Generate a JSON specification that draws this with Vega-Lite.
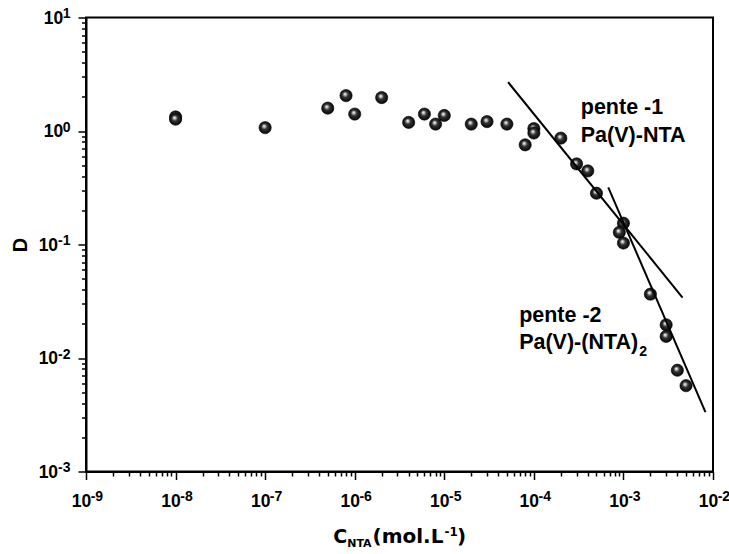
{
  "$schema": "https://vega.github.io/schema/vega-lite/v6.json",
  "autosize": {"type": "none"},
  "padding": {"left": 86, "top": 17.5, "right": 16, "bottom": 82.5},
  "width": 627,
  "height": 454,
  "background": "white",
  "config": {
    "view": {"stroke": "black", "strokeWidth": 2},
    "axis": {"grid": false, "labelColor": "black", "tickColor": "black", "domainColor": "black", "titleColor": "black", "labelFlush": false, "labelOverlap": false, "labelFont": "Liberation Sans", "labelFontWeight": "bold", "titleFontWeight": "bold", "tickWidth": 1.5, "domainWidth": 2}
  },
  "datasets": {
    "points": [
      {"c": 1e-8, "d": 1.33}, {"c": 1e-8, "d": 1.27}, {"c": 1e-7, "d": 1.07},
      {"c": 5e-7, "d": 1.59}, {"c": 8e-7, "d": 2.05}, {"c": 1e-6, "d": 1.41},
      {"c": 2e-6, "d": 1.97}, {"c": 4e-6, "d": 1.19}, {"c": 6e-6, "d": 1.41},
      {"c": 8e-6, "d": 1.15}, {"c": 1e-5, "d": 1.37}, {"c": 2e-5, "d": 1.15},
      {"c": 3e-5, "d": 1.21}, {"c": 5e-5, "d": 1.15}, {"c": 8e-5, "d": 0.755},
      {"c": 1e-4, "d": 1.05}, {"c": 1e-4, "d": 0.96}, {"c": 2e-4, "d": 0.865},
      {"c": 3e-4, "d": 0.513}, {"c": 4e-4, "d": 0.445}, {"c": 5e-4, "d": 0.283},
      {"c": 1e-3, "d": 0.154}, {"c": 9e-4, "d": 0.128}, {"c": 1e-3, "d": 0.103},
      {"c": 2e-3, "d": 0.0365}, {"c": 3e-3, "d": 0.0196}, {"c": 3e-3, "d": 0.0155},
      {"c": 4e-3, "d": 0.0078}, {"c": 5e-3, "d": 0.0057}
    ],
    "lines": [
      {"s": "a", "c": 5.16e-5, "d": 2.69}, {"s": "a", "c": 4.57e-3, "d": 0.0341},
      {"s": "b", "c": 6.77e-4, "d": 0.318}, {"s": "b", "c": 8.24e-3, "d": 0.00334}
    ],
    "labels": [
      {"c": 3.34e-4, "d": 1.40, "t": "pente -1"},
      {"c": 3.34e-4, "d": 0.794, "t": "Pa(V)-NTA"},
      {"c": 6.85e-5, "d": 0.0208, "t": "pente -2"},
      {"c": 6.85e-5, "d": 0.0119, "t": "Pa(V)-(NTA)"}
    ],
    "sub": [
      {"c": 1.5e-3, "d": 0.0104, "t": "2"}
    ]
  },
  "resolve": {"axis": {"x": "independent", "y": "independent"}},
  "layer": [
    {
      "data": {"name": "points"},
      "mark": {
        "type": "point", "shape": "circle", "filled": true, "size": 150, "opacity": 1,
        "fill": {"gradient": "radial", "x1": 0.4, "y1": 0.36, "r1": 0, "x2": 0.5, "y2": 0.5, "r2": 0.55,
          "stops": [{"offset": 0, "color": "#ffffff"}, {"offset": 0.16, "color": "#c8c8c8"}, {"offset": 0.42, "color": "#333333"}, {"offset": 1, "color": "#000000"}]},
        "stroke": "#000000", "strokeWidth": 0.6
      },
      "encoding": {
        "x": {"field": "c", "type": "quantitative",
          "scale": {"type": "log", "domain": [1e-9, 0.01], "nice": false},
          "axis": {"orient": "bottom", "values": [1e-9, 1e-8, 1e-7, 1e-6, 1e-5, 1e-4, 1e-3, 1e-2],
            "labelExpr": "'10'", "labelFont": "Liberation Sans", "labelFontWeight": "bold", "labelFontSize": 17.5,
            "labelAlign": "center", "labelBaseline": "alphabetic",
            "labelOffset": -5, "labelPadding": 26.5, "tickSize": 8,
            "title": "C", "titleX": 246.7, "titleY": 70.5, "titleAlign": "left", "titleBaseline": "alphabetic",
            "titleFont": "DejaVu Sans", "titleFontSize": 19}},
        "y": {"field": "d", "type": "quantitative",
          "scale": {"type": "log", "domain": [0.001, 10], "nice": false},
          "axis": {"orient": "left", "values": [0.001, 0.01, 0.1, 1, 10],
            "labelExpr": "'10'", "labelFont": "Liberation Sans", "labelFontWeight": "bold", "labelFontSize": 17.5,
            "labelAlign": "right", "labelBaseline": "middle", "labelOffset": 0.5,
            "labelPadding": {"condition": {"test": "datum.value >= 1", "value": 15.3}, "value": 20.4},
            "tickSize": 8,
            "title": "D", "titleX": -59.3, "titleY": 227, "titleAngle": -90, "titleAlign": "center",
            "titleBaseline": "alphabetic", "titleFont": "Liberation Sans", "titleFontSize": 20}}
      }
    },
    {
      "data": {"name": "lines"},
      "transform": [{"filter": "datum.s == 'a'"}],
      "mark": {"type": "line", "color": "black", "strokeWidth": 2},
      "encoding": {
        "x": {"field": "c", "type": "quantitative",
          "axis": {"orient": "bottom", "values": [1e-9, 1e-8, 1e-7, 1e-6, 1e-5, 1e-4, 1e-3, 1e-2],
            "labelExpr": "'' + round(log(datum.value) / LN10)", "labelFont": "Liberation Sans", "labelFontWeight": "bold",
            "labelFontSize": 14, "labelAlign": "left",
            "labelBaseline": "alphabetic", "labelOffset": 4.2, "labelPadding": 29.2,
            "ticks": false, "tickSize": 0, "domain": false,
            "title": "NTA", "titleX": 260.7, "titleY": 75, "titleAlign": "left", "titleBaseline": "alphabetic",
            "titleFont": "DejaVu Sans", "titleFontSize": 11}},
        "y": {"field": "d", "type": "quantitative",
          "axis": {"orient": "left", "values": [0.001, 0.01, 0.1, 1, 10],
            "labelExpr": "'' + round(log(datum.value) / LN10)", "labelFont": "Liberation Sans", "labelFontWeight": "bold",
            "labelFontSize": 14, "labelAlign": "right",
            "labelBaseline": "middle", "labelOffset": -4, "labelPadding": 16,
            "ticks": false, "tickSize": 0, "domain": false, "title": null}}
      }
    },
    {
      "data": {"name": "lines"},
      "transform": [{"filter": "datum.s == 'b'"}],
      "mark": {"type": "line", "color": "black", "strokeWidth": 2},
      "encoding": {
        "x": {"field": "c", "type": "quantitative",
          "axis": {"orient": "bottom",
            "values": [2e-9, 3e-9, 4e-9, 5e-9, 6e-9, 7e-9, 8e-9, 9e-9,
                       2e-8, 3e-8, 4e-8, 5e-8, 6e-8, 7e-8, 8e-8, 9e-8,
                       2e-7, 3e-7, 4e-7, 5e-7, 6e-7, 7e-7, 8e-7, 9e-7,
                       2e-6, 3e-6, 4e-6, 5e-6, 6e-6, 7e-6, 8e-6, 9e-6,
                       2e-5, 3e-5, 4e-5, 5e-5, 6e-5, 7e-5, 8e-5, 9e-5,
                       2e-4, 3e-4, 4e-4, 5e-4, 6e-4, 7e-4, 8e-4, 9e-4,
                       2e-3, 3e-3, 4e-3, 5e-3, 6e-3, 7e-3, 8e-3, 9e-3],
            "labels": false, "tickSize": 4.5, "domain": false,
            "title": "(mol.L", "titleX": 286, "titleY": 70.5, "titleAlign": "left", "titleBaseline": "alphabetic",
            "titleFont": "DejaVu Sans", "titleFontSize": 20}},
        "y": {"field": "d", "type": "quantitative",
          "axis": {"orient": "left",
            "values": [0.002, 0.003, 0.004, 0.005, 0.006, 0.007, 0.008, 0.009,
                       0.02, 0.03, 0.04, 0.05, 0.06, 0.07, 0.08, 0.09,
                       0.2, 0.3, 0.4, 0.5, 0.6, 0.7, 0.8, 0.9,
                       2, 3, 4, 5, 6, 7, 8, 9],
            "labels": false, "tickSize": 4.5, "domain": false, "title": null}}
      }
    },
    {
      "data": {"name": "labels"},
      "mark": {"type": "text", "align": "left", "baseline": "alphabetic", "font": "Liberation Sans", "fontWeight": "bold", "fontSize": 21.5, "color": "black"},
      "encoding": {
        "x": {"field": "c", "type": "quantitative",
          "axis": {"orient": "bottom", "labels": false, "ticks": false, "tickSize": 0, "domain": false,
            "title": "-1", "titleX": 358, "titleY": 63.5, "titleAlign": "left", "titleBaseline": "alphabetic",
            "titleFont": "DejaVu Sans", "titleFontSize": 12}},
        "y": {"field": "d", "type": "quantitative", "axis": null},
        "text": {"field": "t", "type": "nominal"}
      }
    },
    {
      "data": {"name": "sub"},
      "mark": {"type": "text", "align": "left", "baseline": "alphabetic", "font": "Liberation Sans", "fontWeight": "bold", "fontSize": 14, "color": "black"},
      "encoding": {
        "x": {"field": "c", "type": "quantitative",
          "axis": {"orient": "bottom", "labels": false, "ticks": false, "tickSize": 0, "domain": false,
            "title": ")", "titleX": 370.5, "titleY": 70.5, "titleAlign": "left", "titleBaseline": "alphabetic",
            "titleFont": "DejaVu Sans", "titleFontSize": 20}},
        "y": {"field": "d", "type": "quantitative", "axis": null},
        "text": {"field": "t", "type": "nominal"}
      }
    }
  ]
}
